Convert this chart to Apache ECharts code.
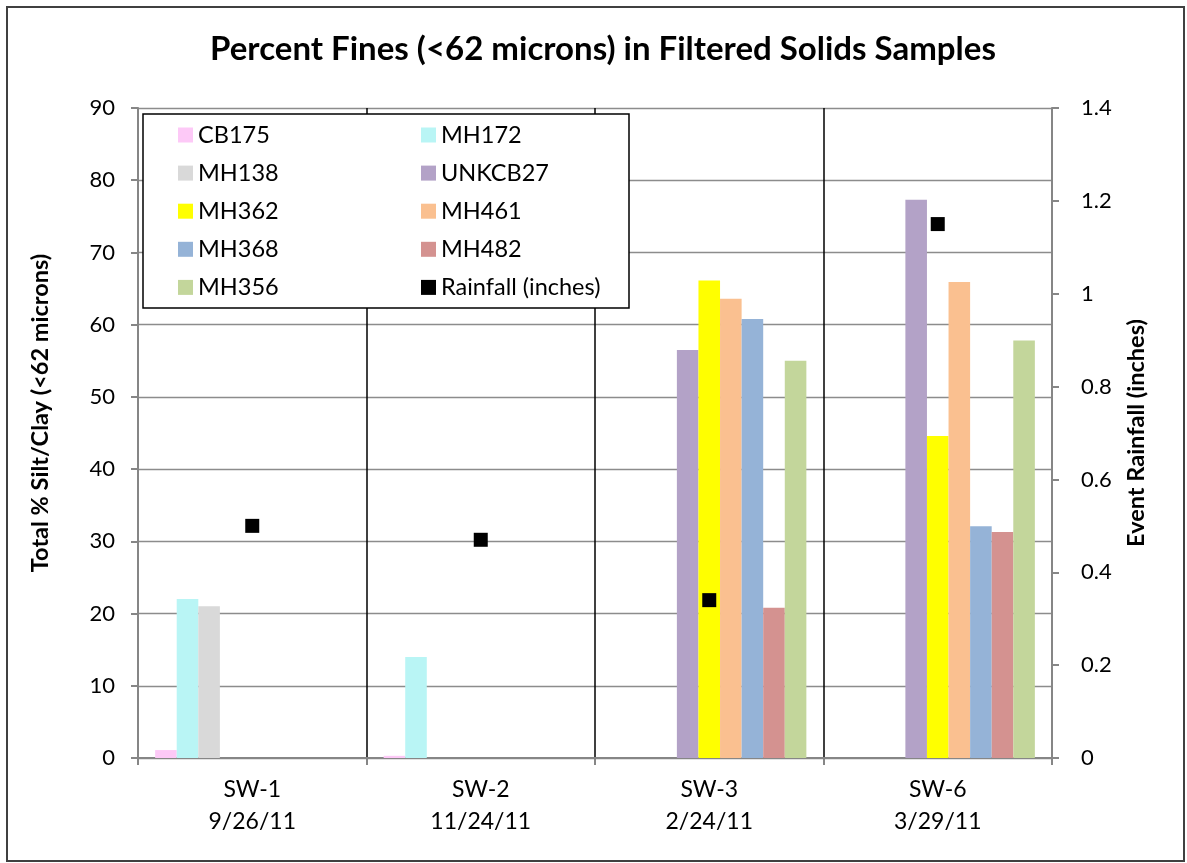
<!DOCTYPE html>
<html>
<head>
<meta charset="utf-8">
<script src="https://cdn.jsdelivr.net/npm/echarts@6/dist/echarts.min.js"></script>
<style>
  html, body { margin: 0; padding: 0; background: #fff; }
  #chart { width: 1187px; height: 863px; }
</style>
</head>
<body>
<div id="chart"></div>
<script>
var sites = ['SW-1\n9/26/11', 'SW-2\n11/24/11', 'SW-3\n2/24/11', 'SW-6\n3/29/11'];

// percent fines per sample, '-' = not sampled
var cb175   = [1.1, 0.3, '-', '-'];
var mh172   = [22.0, 14.0, '-', '-'];
var mh138   = [21.0, '-', '-', '-'];
var unkcb27 = ['-', '-', 56.5, 77.3];
var mh362   = ['-', '-', 66.1, 44.6];
var mh461   = ['-', '-', 63.6, 65.9];
var mh368   = ['-', '-', 60.8, 32.1];
var mh482   = ['-', '-', 20.8, 31.3];
var mh356   = ['-', '-', 55.0, 57.8];

// event rainfall (inches)
var rainfall = [0.50, 0.47, 0.34, 1.15];

var barNames  = ['CB175', 'MH172', 'MH138', 'UNKCB27', 'MH362', 'MH461', 'MH368', 'MH482', 'MH356'];
var barData   = [cb175, mh172, mh138, unkcb27, mh362, mh461, mh368, mh482, mh356];
var barColors = ['#FDC9F7', '#B9F5F5', '#D9D9D9', '#B3A2C7', '#FFFF00', '#FAC090', '#95B3D7', '#D49290', '#C3D69B'];

var font = 'Lato, "Open Sans", sans-serif';

var chartDiv = document.getElementById('chart');
var finesChart = echarts.init(chartDiv);

var series = [];
for (let i = 0; i < barNames.length; i++) {
  series.push({
    name: barNames[i],
    type: 'bar',
    data: barData[i],
    barGap: 0,
    barCategoryGap: '15%',
    itemStyle: { color: barColors[i] }
  });
}
series.push({
  name: 'Rainfall (inches)',
  type: 'scatter',
  yAxisIndex: 1,
  data: rainfall,
  symbol: 'rect',
  symbolSize: 14,
  itemStyle: { color: '#000', opacity: 1 },
  z: 5
});

var legendText = { fontFamily: font, fontSize: 23.5, color: '#000', lineHeight: 22 };

option = {
  animation: false,
  textStyle: { fontFamily: font },
  title: {
    text: 'Percent Fines (<62 microns) in Filtered Solids Samples',
    left: 598,
    textAlign: 'center',
    top: 28,
    textStyle: { fontFamily: font, fontSize: 33, fontWeight: 'bold', color: '#000' }
  },
  grid: { left: 138, right: 135, top: 108, bottom: 105, containLabel: false },
  graphic: [
    {
      type: 'rect',
      z: 0,
      shape: { x: 7, y: 7, width: 1177, height: 854 },
      style: { fill: null, stroke: '#404040', lineWidth: 2 }
    },
    {
      type: 'rect',
      z: 10,
      shape: { x: 143, y: 114, width: 486, height: 194 },
      style: { fill: '#fff', stroke: '#000', lineWidth: 1.5 }
    }
  ],
  legend: [
    {
      orient: 'vertical',
      left: 178, top: 123,
      padding: 0,
      itemWidth: 15, itemHeight: 15,
      itemGap: 14.1,
      z: 20,
      data: [
        { name: 'CB175', icon: 'rect' },
        { name: 'MH138', icon: 'rect' },
        { name: 'MH362', icon: 'rect' },
        { name: 'MH368', icon: 'rect' },
        { name: 'MH356', icon: 'rect' }
      ],
      textStyle: legendText
    },
    {
      orient: 'vertical',
      left: 421, top: 123,
      padding: 0,
      itemWidth: 15, itemHeight: 15,
      itemGap: 14.1,
      z: 20,
      data: [
        { name: 'MH172', icon: 'rect' },
        { name: 'UNKCB27', icon: 'rect' },
        { name: 'MH461', icon: 'rect' },
        { name: 'MH482', icon: 'rect' },
        { name: 'Rainfall (inches)', icon: 'rect' }
      ],
      textStyle: legendText
    }
  ],
  xAxis: {
    type: 'category',
    data: sites,
    axisLine: { lineStyle: { color: '#868686', width: 2 } },
    axisTick: { show: true, length: 7, lineStyle: { color: '#868686', width: 2 } },
    axisLabel: { color: '#000', fontFamily: font, fontSize: 23, lineHeight: 32, margin: 16 },
    splitLine: {
      show: true,
      lineStyle: { color: ['rgba(0,0,0,0)', '#000', '#000', '#000', 'rgba(0,0,0,0)'], width: 1.5 }
    }
  },
  yAxis: [
    {
      type: 'value',
      min: 0, max: 90, interval: 10,
      name: 'Total % Silt/Clay (<62 microns)',
      nameLocation: 'middle',
      nameGap: 86,
      nameTextStyle: { fontFamily: font, fontSize: 23.5, fontWeight: 'bold', color: '#000', padding: [0, 0, 0, 40] },
      axisLine: { show: true, lineStyle: { color: '#868686', width: 2 } },
      axisTick: { show: true, length: 7, lineStyle: { color: '#868686', width: 2 } },
      axisLabel: { color: '#000', fontFamily: font, fontSize: 22, margin: 23 },
      splitLine: { show: true, lineStyle: { color: '#8c8c8c', width: 1.3 } }
    },
    {
      type: 'value',
      min: 0, max: 1.4, interval: 0.2,
      name: 'Event Rainfall (inches)',
      nameLocation: 'middle',
      nameGap: 72,
      nameTextStyle: { fontFamily: font, fontSize: 23.5, fontWeight: 'bold', color: '#000' },
      axisLine: { show: true, lineStyle: { color: '#868686', width: 2 } },
      axisTick: { show: true, length: 7, lineStyle: { color: '#868686', width: 2 } },
      axisLabel: { color: '#000', fontFamily: font, fontSize: 22, margin: 29 },
      splitLine: { show: false }
    }
  ],
  series: series
};

option && finesChart.setOption(option);

window.addEventListener('resize', function () {
  setTimeout(function () { finesChart.resize(); }, 200);
});
</script>
</body>
</html>
